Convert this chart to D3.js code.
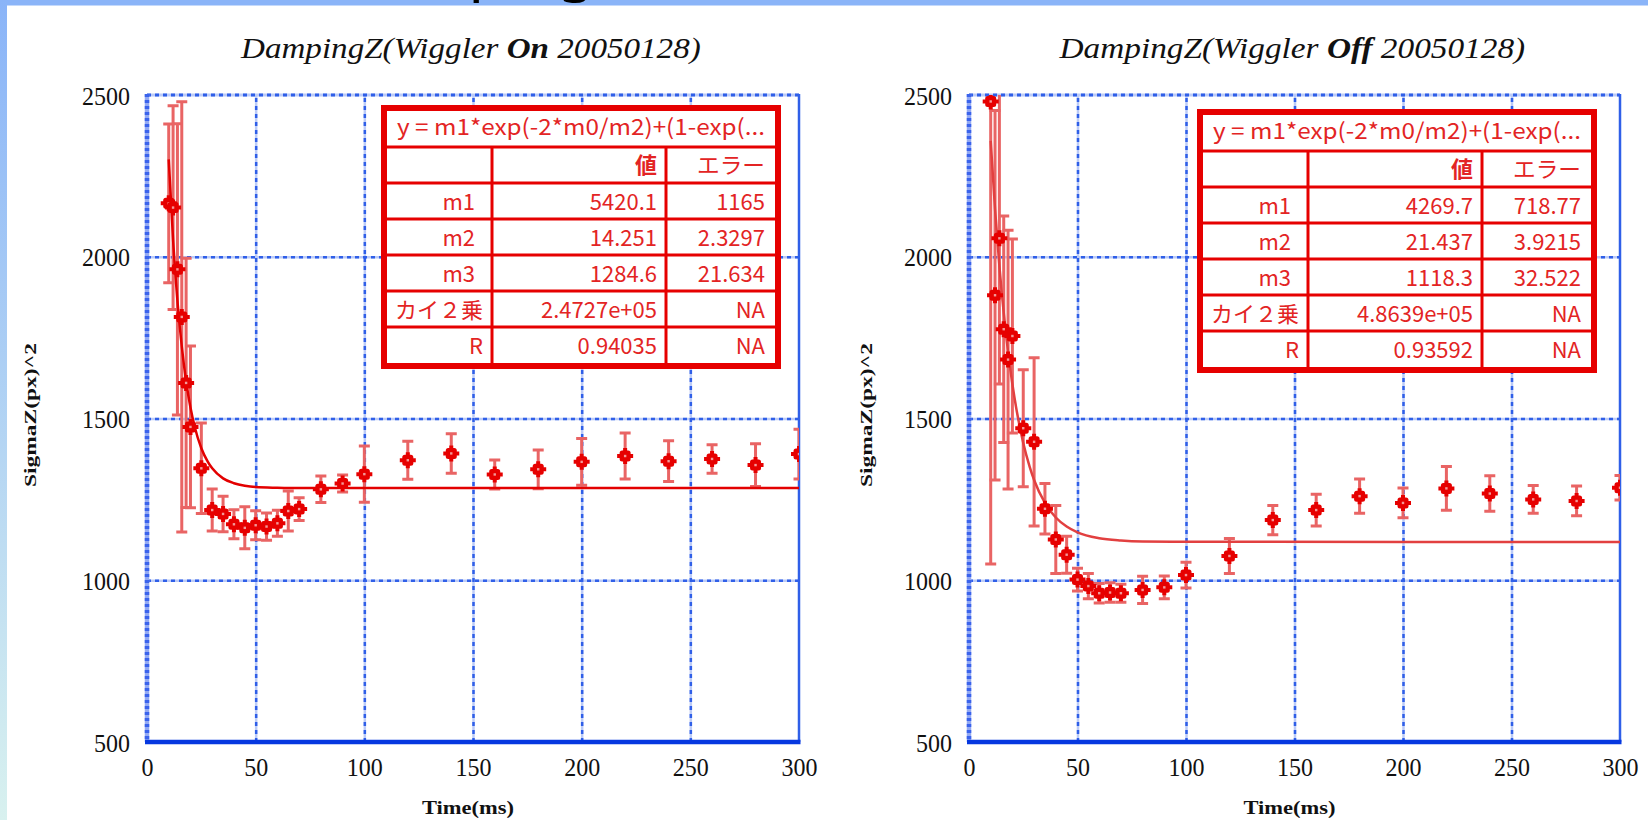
<!DOCTYPE html>
<html>
<head>
<meta charset="utf-8">
<script src="https://cdn.jsdelivr.net/npm/d3@7"></script>
<style>
  body { margin: 0; background: #fff; }
  svg { display: block; }
</style>
</head>
<body>
<script>
var times = [10, 12, 14, 16, 18, 20, 25, 30, 35, 40, 45, 50, 55, 60, 65, 70, 80, 90, 100, 120, 140, 160, 180, 200, 220, 240, 260, 280, 300];
var sigmaOn = [2165, 2152, 1961, 1814, 1610, 1474, 1346, 1217, 1205, 1173, 1162, 1170, 1166, 1176, 1214, 1220, 1281, 1299, 1328, 1371, 1392, 1327, 1343, 1366, 1384, 1368, 1375, 1356, 1390];
var errOn = [245, 315, 450, 665, 385, 250, 140, 65, 55, 45, 65, 45, 42, 40, 62, 35, 41, 26, 87, 59, 61, 45, 60, 72, 71, 63, 44, 66, 77];
var sigmaOff = [2480, 1881, 2057, 1776, 1682, 1755, 1470, 1428, 1221, 1126, 1079, 1002, 982, 960, 962, 960, 970, 978, 1016, 1075, 1186, 1217, 1260, 1239, 1284, 1268, 1250, 1245, 1286];
var errOff = [1430, 571, 450, 350, 400, 300, 181, 260, 78, 105, 57, 35, 39, 30, 30, 28, 42, 35, 40, 54, 45, 49, 53, 46, 68, 55, 43, 46, 38];

// fitted curves
var fitTimes = [10, 12, 14, 16, 18, 20, 22, 25, 28, 30, 35, 40, 45, 50, 60, 70, 80, 100, 300];
var fitOn = [2301, 2052, 1864, 1723, 1615, 1534, 1473, 1408, 1366, 1346, 1315, 1300, 1292, 1288, 1286, 1285, 1285, 1285, 1285];
var fitOff = [2358, 2147, 1972, 1827, 1706, 1606, 1523, 1424, 1350, 1310, 1239, 1194, 1166, 1148, 1130, 1123, 1120, 1119, 1118];

// fit result tables
var tableTitle = "y = m1*exp(-2*m0/m2)+(1-exp(...";
var tableHeader = ["値", "エラー"];
var paramNames = ["m1", "m2", "m3", "カイ２乗", "R"];
var onValues = ["5420.1", "14.251", "1284.6", "2.4727e+05", "0.94035"];
var onErrors = ["1165", "2.3297", "21.634", "NA", "NA"];
var offValues = ["4269.7", "21.437", "1118.3", "4.8639e+05", "0.93592"];
var offErrors = ["718.77", "3.9215", "32.522", "NA", "NA"];

var xTicks = [0, 50, 100, 150, 200, 250, 300];
var yTicks = [500, 1000, 1500, 2000, 2500];

var W = 1648, H = 820;
var plotTop = 95, plotBottom = 742;
var red = "#e60000";
var serif = "'Liberation Serif', 'DejaVu Serif', serif";
var gothic = "'Noto Sans CJK JP', 'Noto Sans', sans-serif";

var svg = d3.select("body").append("svg")
        .attr("width", W)
        .attr("height", H);

var defs = svg.append("defs");
var grad = defs.append("linearGradient")
        .attr("id", "sideGrad")
        .attr("x1", 0).attr("y1", 0).attr("x2", 0).attr("y2", 1);
grad.append("stop").attr("offset", "0%").attr("stop-color", "#8ab4f8");
grad.append("stop").attr("offset", "100%").attr("stop-color", "#d8f1ef");

// slide frame bits around the picture (the slide heading is mostly above the crop)
svg.append("rect").attr("x", 0).attr("y", 0).attr("width", W).attr("height", 5.5).attr("fill", "#8ab4f8");
svg.append("rect").attr("x", 0).attr("y", 0).attr("width", 7).attr("height", H).attr("fill", "url(#sideGrad)");
svg.append("text")
        .attr("x", 335).attr("y", -11)
        .style("font-family", "'Noto Sans', sans-serif")
        .style("font-size", "60px")
        .attr("fill", "#000")
        .text("Damping");

// stretch a text horizontally so it spans 'target' px centred on cx
function fitWidth(t, target, cx, baseline) {
        var w = t.node().getComputedTextLength();
        var s = target / w;
        t.attr("x", 0).attr("y", 0)
         .attr("transform", "translate(" + (cx - target / 2) + "," + baseline + ") scale(" + s + ",1)");
}

function Panel(p) {
        var x = d3.scaleLinear().domain([0, 300]).range([p.left, p.right]);
        var y = d3.scaleLinear().domain([500, 2500]).range([plotBottom, plotTop]);
        var width = p.right - p.left, height = plotBottom - plotTop;
        var g = svg.append("g").attr("class", "panel " + p.key);

        defs.append("clipPath").attr("id", "clip-" + p.key)
                .append("rect")
                .attr("x", p.left).attr("y", plotTop)
                .attr("width", width).attr("height", height);

        // grid, drawn with axes: pale under-line + bright dashes
        var gridX = xTicks.slice(1, -1), gridY = yTicks.slice(1, -1);
        [["#bccbf7", null], ["#2f5fe8", "4,4"]].forEach(function(st) {
                var gx = g.append("g")
                        .attr("transform", "translate(0," + plotBottom + ")")
                        .call(d3.axisBottom(x).tickValues(gridX).tickSize(-height).tickFormat(""));
                var gy = g.append("g")
                        .attr("transform", "translate(" + p.left + ",0)")
                        .call(d3.axisLeft(y).tickValues(gridY).tickSize(-width).tickFormat(""));
                [gx, gy].forEach(function(a) {
                        a.select(".domain").remove();
                        a.selectAll("line")
                                .attr("stroke", st[0])
                                .attr("stroke-width", 2.5)
                                .attr("stroke-dasharray", st[1]);
                });
        });

        // frame
        g.append("line").attr("x1", p.left).attr("x2", p.right).attr("y1", plotTop).attr("y2", plotTop)
                .attr("stroke", "#bccbf7").attr("stroke-width", 3);
        g.append("line").attr("x1", p.left).attr("x2", p.right).attr("y1", plotTop).attr("y2", plotTop)
                .attr("stroke", "#2f5fe8").attr("stroke-width", 3).attr("stroke-dasharray", "4,4");
        g.append("line").attr("x1", p.left).attr("x2", p.left).attr("y1", plotTop - 1).attr("y2", plotBottom)
                .attr("stroke", "#93a9f3").attr("stroke-width", 4.5);
        g.append("line").attr("x1", p.left).attr("x2", p.left).attr("y1", plotTop - 1).attr("y2", plotBottom)
                .attr("stroke", "#3a63ec").attr("stroke-width", 4.5).attr("stroke-dasharray", "3,3");
        g.append("line").attr("x1", p.right).attr("x2", p.right).attr("y1", plotTop - 1).attr("y2", plotBottom)
                .attr("stroke", "#2f5fe8").attr("stroke-width", 2.5);
        g.append("line").attr("x1", p.left - 2).attr("x2", p.right + 1.5).attr("y1", plotBottom).attr("y2", plotBottom)
                .attr("stroke", "#0638e0").attr("stroke-width", 4.5);

        // tick labels
        var yAxis = g.append("g")
                .attr("transform", "translate(" + (p.left - 17) + ",0)")
                .call(d3.axisLeft(y).tickValues(yTicks).tickSize(0).tickPadding(0).tickFormat(d3.format("d")));
        yAxis.select(".domain").remove();
        yAxis.selectAll("text")
                .style("font-family", serif)
                .style("font-size", "25px")
                .attr("fill", "#111")
                .attr("dy", "0.36em")
                .attr("textLength", function(d) { return String(d).length * 12; })
                .attr("lengthAdjust", "spacingAndGlyphs");

        var xAxis = g.append("g")
                .attr("transform", "translate(0," + plotBottom + ")")
                .call(d3.axisBottom(x).tickValues(xTicks).tickSize(0).tickPadding(0).tickFormat(d3.format("d")));
        xAxis.select(".domain").remove();
        xAxis.selectAll("text")
                .style("font-family", serif)
                .style("font-size", "25px")
                .attr("fill", "#111")
                .attr("y", 34)
                .attr("dy", 0)
                .attr("textLength", function(d) { return String(d).length * 12; })
                .attr("lengthAdjust", "spacingAndGlyphs");

        // axis titles
        g.append("text")
                .attr("text-anchor", "middle")
                .attr("x", (p.left + p.right) / 2 - 5).attr("y", 814)
                .style("font-family", serif).style("font-size", "19px").style("font-weight", "bold")
                .attr("fill", "#111")
                .attr("textLength", 92).attr("lengthAdjust", "spacingAndGlyphs")
                .text("Time(ms)");
        g.append("text")
                .attr("text-anchor", "middle")
                .attr("transform", "translate(" + p.yLabelX + ",415) rotate(-90)")
                .style("font-family", serif).style("font-size", "17px").style("font-weight", "bold")
                .attr("fill", "#111")
                .attr("textLength", 144).attr("lengthAdjust", "spacingAndGlyphs")
                .text("SigmaZ(px)^2");

        // plot title, "On"/"Off" in bold
        var title = g.append("text")
                .style("font-family", serif).style("font-size", "29px").style("font-style", "italic")
                .attr("fill", "#111");
        title.append("tspan").text("DampingZ(Wiggler ");
        title.append("tspan").style("font-weight", "bold").text(p.state);
        title.append("tspan").text(" 20050128)");
        fitWidth(title, p.titleWidth, (p.left + p.right) / 2 - 2, 58);

        var data = times.map(function(t, i) {
                return { t: t, v: p.sigma[i], e: p.err[i] };
        });
        var plot = g.append("g").attr("clip-path", "url(#clip-" + p.key + ")");

        // error bars
        var bars = plot.append("g").attr("class", "errbars")
                .attr("stroke", "#e96464").attr("stroke-width", 3).attr("fill", "none");
        bars.selectAll("path").data(data).enter().append("path")
                .attr("d", function(d) {
                        var cx = x(d.t), y0 = y(d.v + d.e), y1 = y(d.v - d.e);
                        return "M" + (cx - 5.5) + "," + y0 + "H" + (cx + 5.5) +
                               "M" + cx + "," + y0 + "V" + y1 +
                               "M" + (cx - 5.5) + "," + y1 + "H" + (cx + 5.5);
                });

        // fitted curve
        plot.append("path")
                .datum(fitTimes.map(function(t, i) { return [t, p.fit[i]]; }))
                .attr("fill", "none")
                .attr("stroke", p.fitColor)
                .attr("stroke-width", 2.5)
                .attr("d", d3.line()
                        .x(function(d) { return x(d[0]); })
                        .y(function(d) { return y(d[1]); })
                        .curve(d3.curveMonotoneX));

        // markers: filled blob with short cross arms
        var marks = plot.append("g").attr("class", "marks")
                .selectAll("g").data(data).enter().append("g")
                .attr("transform", function(d) { return "translate(" + x(d.t) + "," + y(d.v) + ")"; });
        marks.append("path")
                .attr("d", "M-8,0H8M0,-8V8")
                .attr("stroke", red).attr("stroke-width", 4);
        marks.append("rect")
                .attr("x", -5.5).attr("y", -5.5).attr("width", 11).attr("height", 11)
                .attr("rx", 2.5).attr("fill", red);
        marks.append("rect").attr("x", -1.2).attr("y", -1.2).attr("width", 2.4).attr("height", 2.4).attr("fill", "#f29a9a");

        drawTable(g, p.tableX, p.tableY, p.values, p.errors);
}

function drawTable(g, left, top, values, errors) {
        var tw = 400, th = 264;
        var rowLines = [42, 78, 114, 150, 186, 222];
        var colLines = [111, 285];
        var t = g.append("g").attr("class", "fit-table").attr("transform", "translate(" + left + "," + top + ")");

        t.append("rect")
                .attr("x", 3).attr("y", 3).attr("width", tw - 6).attr("height", th - 6)
                .attr("fill", "#fff").attr("stroke", red).attr("stroke-width", 6);
        t.selectAll("line.row").data(rowLines).enter().append("line")
                .attr("class", "row")
                .attr("x1", 6).attr("x2", tw - 6)
                .attr("y1", function(d) { return d; }).attr("y2", function(d) { return d; })
                .attr("stroke", red).attr("stroke-width", 3);
        t.selectAll("line.col").data(colLines).enter().append("line")
                .attr("class", "col")
                .attr("x1", function(d) { return d; }).attr("x2", function(d) { return d; })
                .attr("y1", rowLines[0]).attr("y2", th - 6)
                .attr("stroke", red).attr("stroke-width", 3);

        function cell(txt, xr, base, anchor) {
                return t.append("text")
                        .attr("x", xr).attr("y", base)
                        .attr("text-anchor", anchor || "end")
                        .style("font-family", gothic)
                        .style("font-size", "22px")
                        .attr("fill", "#e32424")
                        .text(txt);
        }

        cell(tableTitle, tw / 2, 30, "middle")
                .attr("textLength", 368).attr("lengthAdjust", "spacingAndGlyphs");
        cell(tableHeader[0], 276, 68).style("font-weight", "bold");
        cell(tableHeader[1], 384, 68).attr("textLength", 68).attr("lengthAdjust", "spacingAndGlyphs");

        paramNames.forEach(function(name, i) {
                var base = 96 + 36 * i + 8.5;
                cell(name, i < 3 ? 94 : 102, base);
                cell(values[i], 276, base);
                cell(errors[i], 384, base);
        });
}

Panel({ key: "on", left: 147, right: 799, state: "On", titleWidth: 460,
        sigma: sigmaOn, err: errOn, fit: fitOn, fitColor: "#e30000",
        tableX: 381, tableY: 105, yLabelX: 36, values: onValues, errors: onErrors });
Panel({ key: "off", left: 969, right: 1620, state: "Off", titleWidth: 466,
        sigma: sigmaOff, err: errOff, fit: fitOff, fitColor: "#e24040",
        tableX: 1197, tableY: 109, yLabelX: 872, values: offValues, errors: offErrors });
</script>
</body>
</html>
